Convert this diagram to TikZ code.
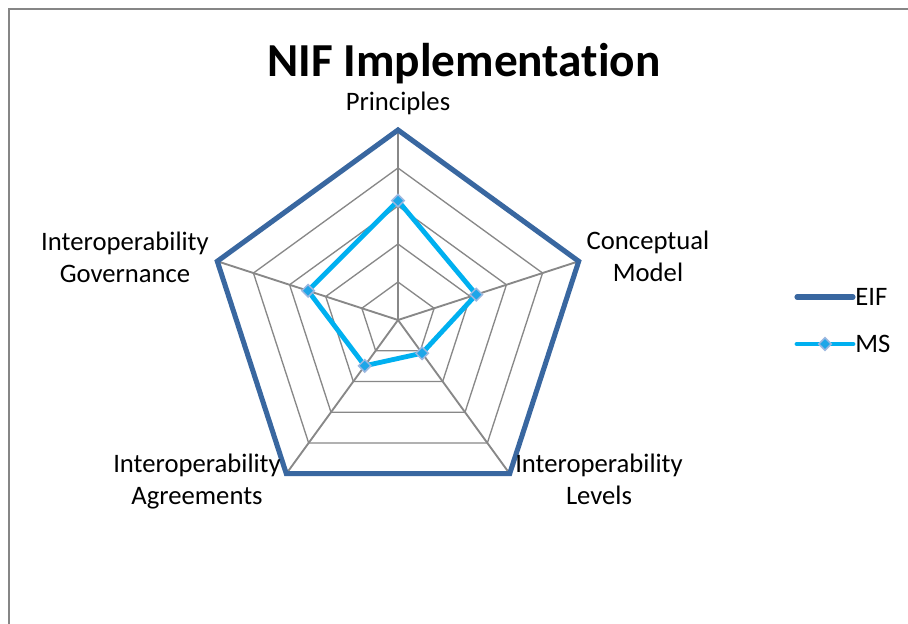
\documentclass[tikz,border=0pt]{standalone}
\usepackage{fontspec}
\setmainfont[Ligatures=NoCommon]{Carlito}
\definecolor{eifblue}{RGB}{57,103,160}
\definecolor{mscyan}{RGB}{0,176,240}
\definecolor{mkfill}{RGB}{30,166,232}
\definecolor{mkedge}{RGB}{155,183,224}
\definecolor{gridgray}{RGB}{136,136,136}
\definecolor{framegray}{RGB}{134,134,134}
\begin{document}
\begin{tikzpicture}[x=0.75pt,y=-0.75pt,
  gridline/.style={draw=gridgray,line width=1pt},
  spoke/.style={draw=gridgray,line width=1.4pt},
  eifline/.style={draw=eifblue,line width=3.8pt,line join=miter},
  msline/.style={draw=mscyan,line width=3.6pt,line join=round},
  msmark/.style={rectangle,rotate=45,fill=mkfill,draw=mkedge,line width=1.1pt,inner sep=0pt,minimum width=6.6pt,minimum height=6.6pt},
  lbl/.style={font=\fontsize{20}{24}\selectfont,anchor=base,inner sep=0pt},
  ttl/.style={font=\fontsize{35.5}{42}\selectfont\bfseries,anchor=base,inner sep=0pt}]
\useasboundingbox (0,0) rectangle (908,624);
\fill[white] (0,0) rectangle (908,624);
\begin{scope}
  \clip (0,0) rectangle (908,624);
  \draw[framegray,line width=1.3pt] (9,9) rectangle (940,660);
\end{scope}
% title
\node[ttl] (title) at (464,77) {NIF Implementation};
% radar
\begin{scope}[shift={(398,320)}]
  \coordinate (O) at (0,0);
  \foreach \k in {1,...,5}{
    \draw[gridline] (-90:{\k*38}) -- (-18:{\k*38}) -- (54:{\k*38}) -- (126:{\k*38}) -- (198:{\k*38}) -- cycle;
  }
  \coordinate (P) at (-90:190);
  \coordinate (C) at (-18:190);
  \coordinate (L) at (54:190);
  \coordinate (A) at (126:190);
  \coordinate (G) at (198:190);
  \foreach \v in {P,C,L,A,G} \draw[spoke] (O) -- (\v);
  \draw[eifline] (P) -- (C) -- (L) -- (A) -- (G) -- cycle;
  \coordinate (mP) at (-90:119.3);
  \coordinate (mC) at (-18:82.3);
  \coordinate (mL) at (54:41);
  \coordinate (mA) at (126:56.6);
  \coordinate (mG) at (198:94.6);
  \draw[msline] (mP) -- (mC) -- (mL) -- (mA) -- (mG) -- cycle;
  \foreach \v in {mP,mC,mL,mA,mG} \node[msmark] at (\v) {};
\end{scope}
% axis labels
\node[lbl] (lP) at (398,111) {Principles};
\node[lbl] (lC1) at (648,250) {Conceptual};
\node[lbl] (lC2) at (648,282) {Model};
\node[lbl] (lL1) at (599,472) {Interoperability};
\node[lbl] (lL2) at (599,504) {Levels};
\node[lbl] (lA1) at (197,472) {Interoperability};
\node[lbl] (lA2) at (197,504) {Agreements};
\node[lbl] (lG1) at (125,251) {Interoperability};
\node[lbl] (lG2) at (125,283) {Governance};
% legend
\coordinate (e1) at (797,297);
\coordinate (e2) at (853,297);
\draw[draw=eifblue,line width=3.8pt,line cap=round] (e1) -- (e2);
\node[lbl,anchor=base west] (lEIF) at (855,306) {EIF};
\coordinate (m1) at (797,344);
\coordinate (m2) at (853,344);
\draw[draw=mscyan,line width=3.6pt,line cap=round] (m1) -- (m2);
\node[msmark] (mleg) at (825,344) {};
\node[lbl,anchor=base west] (lMS) at (855,353) {MS};
\end{tikzpicture}
\end{document}
